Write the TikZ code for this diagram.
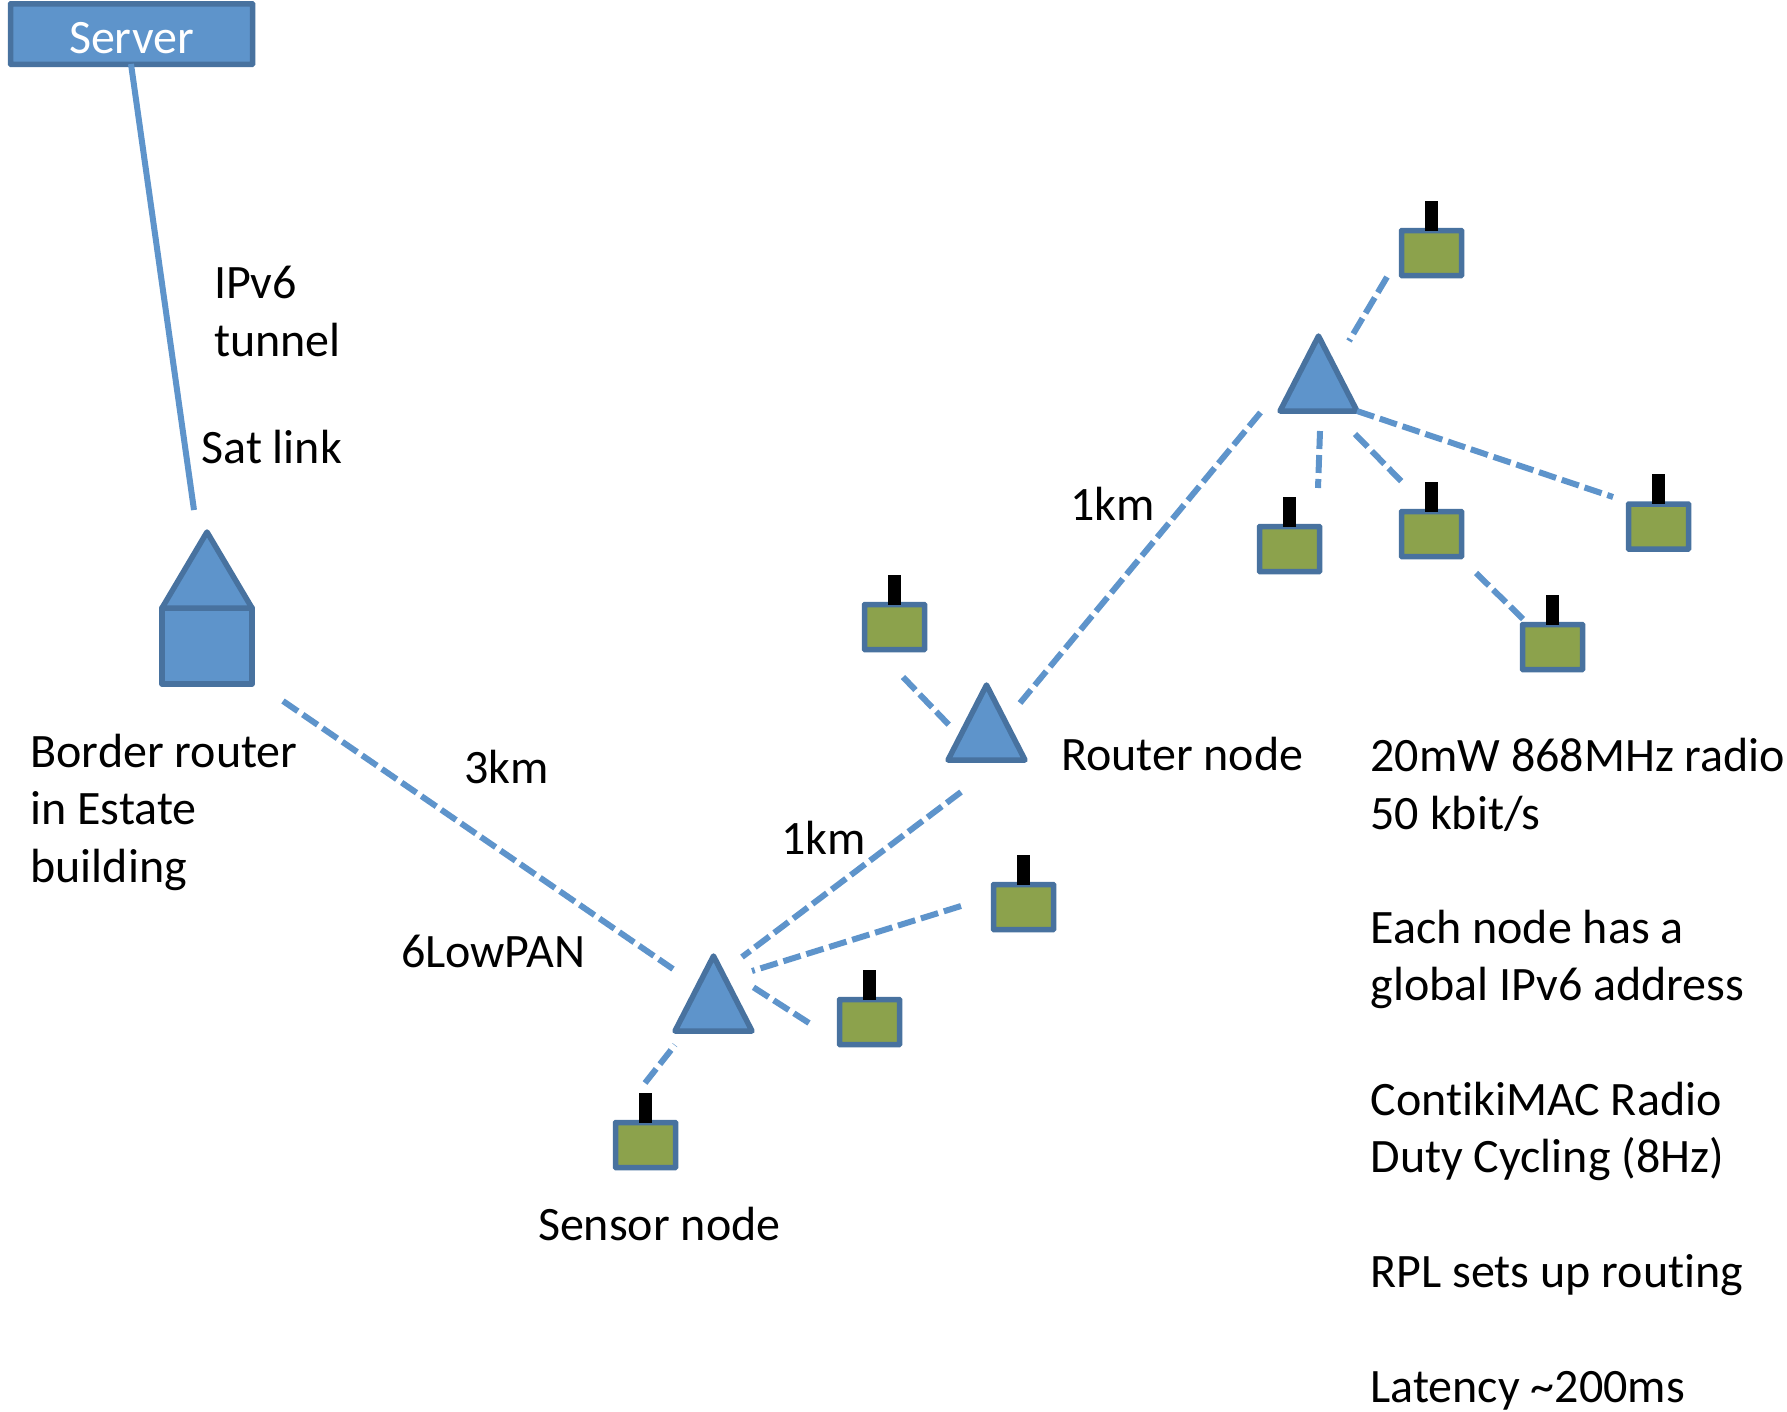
\documentclass[tikz,border=0pt]{standalone}
\usepackage{fontspec}
\setmainfont[Ligatures=CommonOff]{Carlito}
\usetikzlibrary{shapes.geometric}
\definecolor{fillblue}{HTML}{5E94CB}
\definecolor{edgeblue}{HTML}{48729F}
\definecolor{sensgreen}{HTML}{8CA24C}
\tikzset{
  x=1pt,y=-1pt,
  serverbox/.style={draw=edgeblue,fill=fillblue,line width=5.5pt,rounded corners=0.6pt,minimum width=242pt,minimum height=60.5pt,inner sep=0pt,outer sep=0pt,text=white,font=\fontsize{48}{54}\selectfont},
  tri/.style={draw=edgeblue,fill=fillblue,line width=5.5pt,line join=round,isosceles triangle,isosceles triangle apex angle=53.13,isosceles triangle stretches,shape border rotate=90,minimum width=77pt,minimum height=75pt,inner sep=0pt,outer sep=0pt,anchor=lower side},
  housebody/.style={draw=edgeblue,fill=fillblue,line width=5.5pt,line join=round,minimum width=90pt,minimum height=76pt,inner sep=0pt,outer sep=0pt},
  sensor/.style={draw=edgeblue,fill=sensgreen,line width=5.5pt,rounded corners=0.6pt,minimum width=60pt,minimum height=45pt,inner sep=0pt,outer sep=0pt},
  antenna/.style={fill=black,draw=none,minimum width=12.5pt,minimum height=30pt,inner sep=0pt,outer sep=0pt,anchor=south},
  link/.style={draw=fillblue,line width=6pt,dash pattern=on 18pt off 6pt},
  solidlink/.style={draw=fillblue,line width=6pt},
  label/.style={font=\fontsize{48}{57.3}\selectfont,text=black,inner sep=0pt,outer sep=0pt,anchor=base west,align=left},
}
\begin{document}
\begin{tikzpicture}
\useasboundingbox (0,0) rectangle (1787,1411);
% nodes
\node[serverbox] (server) at (131.5,34) {\raisebox{-19pt}[0pt][0pt]{Server}};
\node[housebody] (brbody) at (207,646) {};
\node[tri,minimum width=90pt,minimum height=76pt,isosceles triangle apex angle=61.3] (brtop) at (207,608) {};
\foreach \n/\x/\y in {trtop/1318.5/411,trrouter/986.5/760,trsensor/713.5/1031}{
  \node[tri] (\n) at (\x,\y) {};
}
\foreach \n/\x/\y in {sa/1431.5/253,sb/1289.5/549,sc/1431.5/534,sd/1658.5/526.5,se/1552.5/647,sf/645.5/1145,sg/869.5/1022,sh/1023.5/907,si/894.5/627}{
  \node[sensor] (\n) at (\x,\y) {};
  \node[antenna] (\n ant) at (\x,\y-22.5) {};
}
% connectors
\draw[solidlink] ([shift={(-0.5,30)}]server.center) -- ([shift={(-13,-22)}]brtop.north);
\draw[link] ([shift={(76,55)}]brbody.center) -- ([shift={(-40.5,-62)}]trsensor.lower side);
\draw[link] ([shift={(-58,1.5)}]trtop.lower side) -- ([shift={(33.5,-57)}]trrouter.lower side);
\draw[link] ([shift={(-25.5,32)}]trrouter.lower side) -- ([shift={(28.5,-74)}]trsensor.lower side);
\draw[link] ([shift={(-62.5,-1)}]sh.center) -- ([shift={(38.5,-60)}]trsensor.lower side);
\draw[link] ([shift={(-60.5,1)}]sg.center) -- ([shift={(39.5,-44)}]trsensor.lower side);
\draw[link] ([shift={(-0.5,-62)}]sf.center) -- ([shift={(-38.5,14)}]trsensor.lower side);
\draw[link] ([shift={(8.5,50)}]si.center) -- ([shift={(-37.5,-35)}]trrouter.lower side);
\draw[link] ([shift={(-44.5,24)}]sa.center) -- ([shift={(30.5,-70)}]trtop.lower side);
\draw[link] ([shift={(38.5,0)}]trtop.lower side) -- ([shift={(-45.5,-29.5)}]sd.center);
\draw[link] ([shift={(36.5,23)}]trtop.lower side) -- ([shift={(-29.5,-52)}]sc.center);
\draw[link] ([shift={(1.5,20)}]trtop.lower side) -- ([shift={(28.5,-61)}]sb.center);
\draw[link] ([shift={(44.5,39)}]sc.center) -- ([shift={(-29.5,-28)}]se.center);
% labels
\node[label] (t1) at (214,356) {IPv6\\tunnel};
\node[label] (t2) at (201.5,463) {Sat link};
\node[label] (t3) at (30.5,882) {Border router\\in Estate\\building};
\node[label] (t4) at (464,783) {3km};
\node[label] (t5) at (401,967) {6LowPAN};
\node[label] (t6) at (781.5,854.5) {1km};
\node[label] (t7) at (1070,520.5) {1km};
\node[label] (t8) at (1061,770.5) {Router node};
\node[label] (t9) at (538,1240.5) {Sensor node};
\node[label] (t10) at (1370.5,1402) {20mW 868MHz radio\\50 kbit/s\\[57.3pt]Each node has a\\global IPv6 address\\[57.3pt]ContikiMAC Radio\\Duty Cycling (8Hz)\\[57.3pt]RPL sets up routing\\[57.3pt]Latency \textasciitilde200ms};
\end{tikzpicture}
\end{document}
